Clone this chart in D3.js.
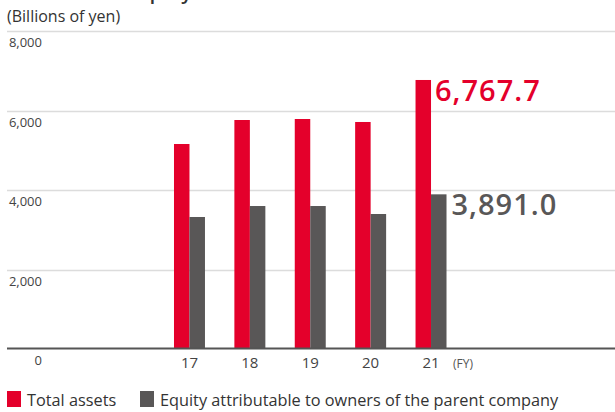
<!DOCTYPE html>
<html><head><meta charset="utf-8">
<script src="https://cdn.jsdelivr.net/npm/d3@7"></script>
<style>body{margin:0;background:#fff}svg{display:block}text{font-family:"Open Sans",sans-serif}</style>
</head><body>
<script>
const years = ["17","18","19","20","21"];
const totalAssets = [5157, 5761, 5786, 5711, 6767.7];
const equity = [3321, 3597, 3597, 3396, 3891.0];
const yTicks = [0, 2000, 4000, 6000, 8000];
const seriesNames = ["Total assets", "Equity attributable to owners of the parent company"];
const colors = ["#E4002B", "#595757"];

const W = 615, H = 412;
const svg = d3.select("body").append("svg").attr("width", W).attr("height", H);

const y = d3.scaleLinear().domain([0, 8000]).range([349, 31]);
const x = d3.scaleBand().domain(years).range([159.5, 461]).paddingInner(0.487).paddingOuter(0.24);
const xs = d3.scaleBand().domain([0, 1]).range([0, x.bandwidth()]);

// cut-off title
svg.append("text").attr("x", 192).attr("y", -1).attr("text-anchor", "end")
  .attr("font-size", 20).attr("font-weight", 600).attr("fill", "#333").text("Total Assets and Equity");

svg.append("text").attr("x", 7).attr("y", 22).attr("font-size", 16).attr("fill", "#333").text("(Billions of yen)");

// gridlines
svg.append("g").selectAll("line").data(yTicks.filter(d => d > 0)).join("line")
  .attr("x1", 7).attr("x2", 615).attr("y1", d => Math.round(y(d)) + 0.5).attr("y2", d => Math.round(y(d)) + 0.5)
  .attr("stroke", "#dcdcdc").attr("stroke-width", 1.5);

// y tick labels
svg.append("g").selectAll("text").data(yTicks).join("text")
  .attr("x", 42).attr("y", d => y(d) + 16).attr("text-anchor", "end")
  .attr("font-size", 13).attr("fill", "#444").text(d => d3.format(",")(d));

// bars
const data = years.map((yr, i) => ({yr, vals: [totalAssets[i], equity[i]]}));
const g = svg.append("g").selectAll("g").data(data).join("g").attr("transform", d => `translate(${x(d.yr)},0)`);
g.selectAll("rect").data(d => d.vals.map((v, k) => ({v, k}))).join("rect")
  .attr("x", d => xs(d.k)).attr("width", xs.bandwidth())
  .attr("y", d => y(d.v)).attr("height", d => y(0) - y(d.v))
  .attr("fill", d => colors[d.k]);

// baseline
svg.append("line").attr("x1", 7).attr("x2", 615).attr("y1", 348.5).attr("y2", 348.5)
  .attr("stroke", "#555").attr("stroke-width", 2);

// x labels
svg.append("g").selectAll("text").data(years).join("text")
  .attr("x", d => x(d) + x.bandwidth() / 2).attr("y", 368).attr("text-anchor", "middle")
  .attr("font-size", 15).attr("fill", "#444").text(d => d);
svg.append("text").attr("x", 453).attr("y", 368).attr("font-size", 12).attr("fill", "#555").text("(FY)");

// value labels for last year
const last = years.length - 1;
svg.append("text").attr("x", x(years[last]) + x.bandwidth() / 2 + 4).attr("y", y(totalAssets[last]) + 21)
  .attr("font-size", 29).attr("letter-spacing", 1).attr("font-weight", 600).attr("fill", colors[0]).text(d3.format(",.1f")(totalAssets[last]));
svg.append("text").attr("x", x(years[last]) + x.bandwidth() + 5).attr("y", y(equity[last]) + 21)
  .attr("font-size", 29).attr("letter-spacing", 1).attr("font-weight", 600).attr("fill", colors[1]).text(d3.format(",.1f")(equity[last]));

// legend
const legX = [7, 140];
const lg = svg.append("g").selectAll("g").data(seriesNames).join("g").attr("transform", (d, i) => `translate(${legX[i]},391)`);
lg.append("rect").attr("width", 14).attr("height", 16).attr("fill", (d, i) => colors[i]);
lg.append("text").attr("x", 20).attr("y", 15).attr("font-size", 16.3).attr("fill", "#333").text(d => d);
</script>
</body></html>
